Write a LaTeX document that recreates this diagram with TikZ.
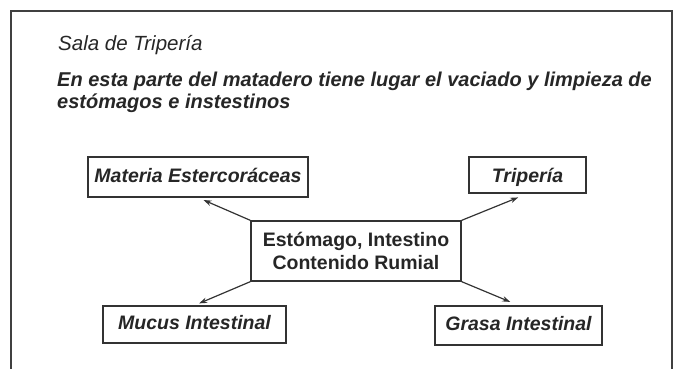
\documentclass[tikz,border=0pt]{standalone}
\usepackage{fontspec}
\setmainfont{Liberation Sans}
\usetikzlibrary{arrows.meta}
\begin{document}
\begin{tikzpicture}[x=1pt,y=-1pt,
  titulo/.style={anchor=base west,inner sep=0pt,text=black!85},
  caja/.style={draw=black!80,line width=1.3pt,inner sep=0pt,text=black!85,
    text height=14pt,text depth=4pt,
    font=\fontsize{19.5}{23}\selectfont\bfseries\itshape},
  flecha/.style={draw=black!80,line width=1.2pt,-{Stealth[length=8pt,width=5.5pt]}}]
\useasboundingbox (0,0) rectangle (675,369);
\draw[black!75,line width=1.6pt] (11,369) -- (11,11) -- (672,11) -- (672,369);

\node[titulo,font=\fontsize{20.5}{22}\selectfont\itshape] (sala) at (58,51) {Sala de Tripería};
\node[titulo,font=\fontsize{20}{22}\selectfont\bfseries\itshape] (desc) at (57,86) {En esta parte del matadero tiene lugar el vaciado y limpieza de};
\node[titulo,font=\fontsize{20}{22}\selectfont\bfseries\itshape] (desc2) at (57,108) {estómagos e instestinos};

\node[caja,minimum width=220pt,minimum height=40pt] (mat) at (198,177) {Materia Estercoráceas};
\node[caja,text height=17pt,text depth=2pt,minimum width=117pt,minimum height=36pt] (tri) at (527.5,175) {Tripería};
\node[caja,align=center,text height=,text depth=,font=\fontsize{19.5}{23}\selectfont\bfseries,minimum width=210pt,minimum height=60pt] (ctr) at (356,251) {Estómago, Intestino\\Contenido Rumial};
\node[caja,minimum width=183pt,minimum height=37pt] (muc) at (194.5,324.5) {Mucus Intestinal};
\node[caja,minimum width=167pt,minimum height=39pt] (gra) at (518.5,325.5) {Grasa Intestinal};

\draw[flecha,shorten >=6pt] (ctr.north west) -- (mat.south);
\draw[flecha,shorten >=5pt] (ctr.south west) -- (muc.north);
\draw[flecha,shorten >=10pt] (ctr.north east) -- (tri.south);
\draw[flecha,shorten >=9pt] (ctr.south east) -- (gra.north);
\end{tikzpicture}
\end{document}
